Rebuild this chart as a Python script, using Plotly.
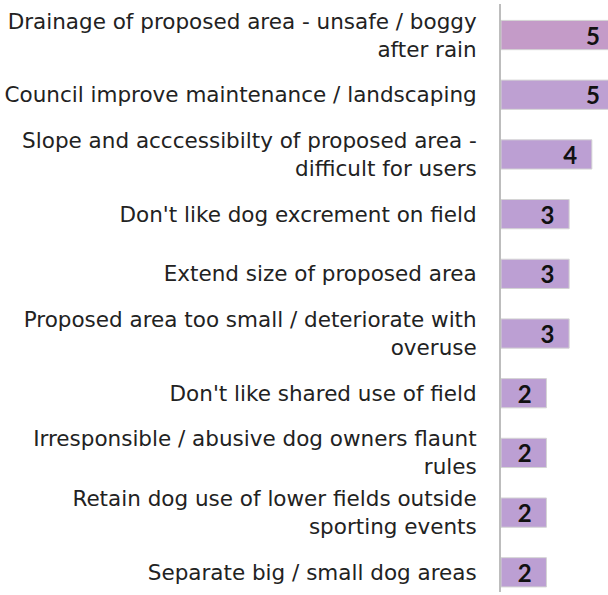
import plotly.graph_objects as go

categories = [
    "Drainage of proposed area - unsafe / boggy<br>after rain",
    "Council improve maintenance / landscaping",
    "Slope and acccessibilty of proposed area -<br>difficult for users",
    "Don't like dog excrement on field",
    "Extend size of proposed area",
    "Proposed area too small / deteriorate with<br>overuse",
    "Don't like shared use of field",
    "Irresponsible / abusive dog owners flaunt<br>rules",
    "Retain dog use of lower fields outside<br>sporting events",
    "Separate big / small dog areas",
]
values = [5, 5, 4, 3, 3, 3, 2, 2, 2, 2]
colors = ["#c49bc8", "#bea0d2", "#bc9fd3", "#bc9fd3", "#bc9fd3",
          "#bc9fd3", "#bc9fd3", "#bc9fd3", "#bc9fd3", "#bc9fd3"]
labels = [f"{v}\u00a0\u00a0" for v in values]

fig = go.Figure(go.Bar(
    x=values,
    y=categories,
    orientation="h",
    width=0.49,
    marker=dict(color=colors, line=dict(color="#d4d4d4", width=1)),
    text=labels,
    textposition="inside",
    insidetextanchor="end",
    textangle=0,
    constraintext="none",
    textfont=dict(family="Lato", size=24, color="#111111", weight=700),
    hoverinfo="skip",
))

fig.update_layout(
    width=608,
    height=595,
    margin=dict(l=501, r=0, t=4, b=3),
    plot_bgcolor="white",
    paper_bgcolor="white",
    showlegend=False,
    xaxis=dict(range=[0, 4.71], showgrid=False, zeroline=False,
               showticklabels=False, showline=False, fixedrange=True),
    yaxis=dict(range=[9.33, -0.52], showgrid=False, zeroline=False,
               showline=True, linecolor="#bdbdbd", linewidth=2,
               ticks="", ticklabelstandoff=18, fixedrange=True,
               tickfont=dict(family="DejaVu Sans", size=21.5, color="#222222")),
)

fig.write_html(
    "out.html",
    config={"displayModeBar": False},
    post_script="document.body.style.margin='0';document.documentElement.style.overflow='hidden';",
)
